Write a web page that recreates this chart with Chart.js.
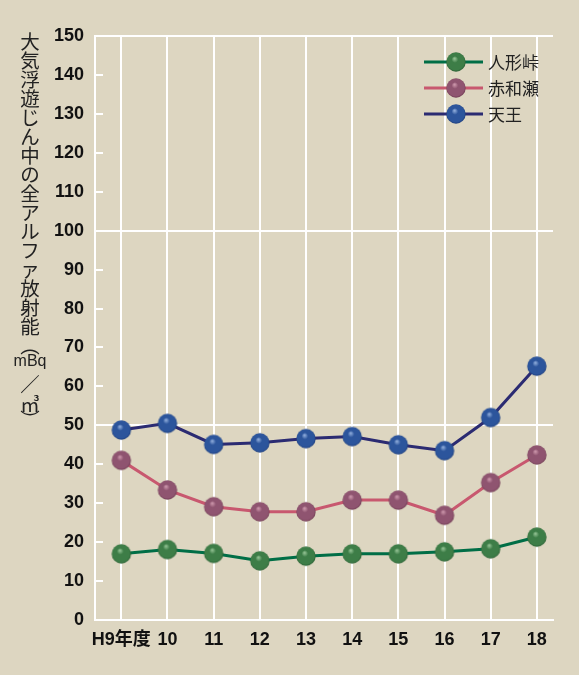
<!DOCTYPE html>
<html><head><meta charset="utf-8">
<script src="https://cdn.jsdelivr.net/npm/chart.js@4"></script>
<style>html,body{margin:0;padding:0;background:#ddd6c1;} #wrap{width:579px;height:675px;position:relative;}</style>
</head><body><div id="wrap"><canvas id="c" width="579" height="675"></canvas></div>
<script>
const categories = ['H9年度','10','11','12','13','14','15','16','17','18'];
const seriesNames = ['人形峠','赤和瀬','天王'];
const ningyotoge = [17.0,18.1,17.1,15.2,16.4,17.0,17.0,17.5,18.3,21.3];
const akawase    = [41.0,33.4,29.1,27.8,27.8,30.8,30.8,26.9,35.3,42.4];
const tenno      = [48.8,50.5,45.1,45.5,46.6,47.1,45.0,43.5,52.0,65.2];
const yTickValues = [0,10,20,30,40,50,60,70,80,90,100,110,120,130,140,150];
const titleChars = ['大','気','浮','遊','じ','ん','中','の','全','ア','ル','フ','ァ','放','射','能'];
const titleUnit = ['︵','mBq','／','㎥','︶'];

function sphere(base, hi, edge){
  const c=document.createElement('canvas'); c.width=c.height=22;
  const g=c.getContext('2d');
  const grd=g.createRadialGradient(9.5,7.5,0.5,11,11,10.5);
  grd.addColorStop(0,hi); grd.addColorStop(0.28,base); grd.addColorStop(0.8,base); grd.addColorStop(1,edge);
  g.fillStyle=grd; g.beginPath(); g.arc(11,11,9.7,0,Math.PI*2); g.fill();
  return c;
}
const lineColors = ['#006e46','#c8586f','#2b2b72'];
const spheres = [
  sphere('#3d7d47','#8fbf90','#24552d'),
  sphere('#8f5470','#c993a8','#663449'),
  sphere('#2c559c','#8aa8d8','#1a3670')
];
const seriesData = [ningyotoge, akawase, tenno];

const datasets = seriesData.map((arr,k)=>({
  label: seriesNames[k],
  data: arr.map((v,i)=>({x:i,y:v})),
  borderColor: lineColors[k],
  borderWidth: 3,
  pointStyle: spheres[k],
  pointRadius: 10,
  tension: 0,
  fill: false
}));

const bgTicks = {
  id:'bgTicks',
  beforeDatasetsDraw(chart){
    const {ctx, chartArea} = chart; const y = chart.scales.y;
    ctx.save(); ctx.strokeStyle='#ffffff'; ctx.lineWidth=2;
    yTickValues.forEach(v=>{
      if (v%50===0) return;
      const py = Math.round(y.getPixelForValue(v));
      ctx.beginPath(); ctx.moveTo(chartArea.left, py); ctx.lineTo(chartArea.left+8, py); ctx.stroke();
    });
    ctx.restore();
  }
};

const legendTitle = {
  id:'legendTitle',
  afterDraw(chart){
    const ctx = chart.ctx;
    ctx.save();
    const ys=[62,88,114];
    seriesNames.forEach((n,k)=>{
      ctx.strokeStyle=lineColors[k]; ctx.lineWidth=3;
      ctx.beginPath(); ctx.moveTo(424,ys[k]); ctx.lineTo(483,ys[k]); ctx.stroke();
      ctx.drawImage(spheres[k],456-11,ys[k]-11);
      ctx.fillStyle='#222'; ctx.font='17px "Noto Sans CJK JP"'; ctx.textBaseline='middle'; ctx.textAlign='left';
      ctx.fillText(n,488,ys[k]+1);
    });
    ctx.fillStyle='#222'; ctx.textAlign='center'; ctx.textBaseline='middle';
    ctx.font='19.5px "Noto Sans CJK JP"';
    titleChars.forEach((ch,i)=>{ ctx.fillText(ch,30,42+19*i); });
    const uy=[346,362,385,405,420];
    titleUnit.forEach((s,i)=>{
      if (s==='mBq'){ ctx.font='16px "Liberation Sans"'; }
      else { ctx.font='19.5px "Noto Sans CJK JP"'; }
      ctx.fillText(s,30,uy[i]);
    });
    ctx.restore();
  }
};

new Chart(document.getElementById('c'), {
  type:'line',
  data:{datasets},
  options:{
    responsive:false, animation:false, devicePixelRatio:1,
    layout:{padding:{top:36,right:26,left:0,bottom:0}},
    plugins:{legend:{display:false}, tooltip:{enabled:false}},
    scales:{
      x:{
        type:'linear', min:-0.57, max:9.35,
        afterBuildTicks(s){ s.ticks = categories.map((_,i)=>({value:i})); },
        afterFit(s){ s.height = 55; },
        ticks:{ callback:(v)=>categories[Math.round(v)], autoSkip:false, maxRotation:0, padding:9,
          color:'#111', font:{family:'"Liberation Sans","Noto Sans CJK JP"', size:18, weight:'bold'} },
        grid:{ color:'#ffffff', lineWidth:2, drawTicks:false },
        border:{ color:'#ffffff', width:2 }
      },
      y:{
        min:0, max:150,
        afterBuildTicks(s){ s.ticks = yTickValues.map(v=>({value:v})); },
        afterFit(s){ s.width = 95; },
        ticks:{ padding:11, color:'#111', font:{family:'"Liberation Sans"', size:18, weight:'bold'} },
        grid:{ color:(c)=> (c.tick && c.tick.value%50===0 && c.tick.value>0) ? '#ffffff' : 'rgba(0,0,0,0)', lineWidth:2, drawTicks:false },
        border:{ color:'#ffffff', width:2 }
      }
    }
  },
  plugins:[bgTicks, legendTitle]
});
</script></body></html>
